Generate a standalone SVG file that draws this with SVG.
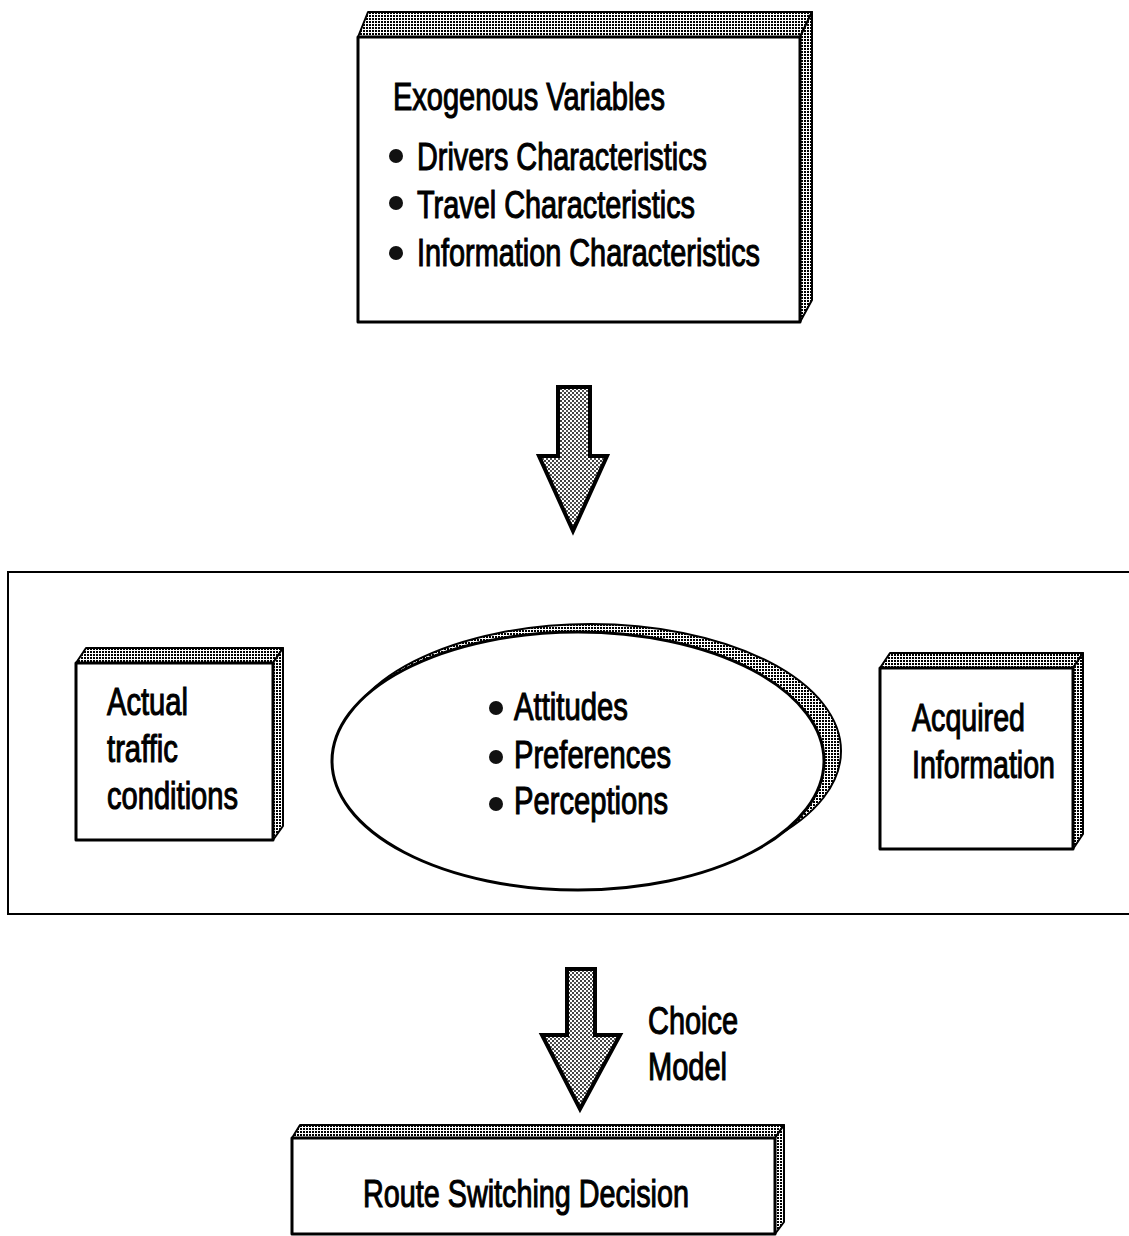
<svg xmlns="http://www.w3.org/2000/svg" width="1129" height="1236" viewBox="0 0 1129 1236">
  <defs>
    <!-- halftone stipple used for box depth faces -->
    <pattern id="stipDark" width="3" height="3" patternUnits="userSpaceOnUse">
      <rect width="3" height="3" fill="#ffffff"/>
      <rect x="0" y="0" width="2" height="2" fill="#000000"/>
    </pattern>
    <!-- lighter stipple for the flow arrows -->
    <pattern id="stipLight" width="4" height="4" patternUnits="userSpaceOnUse">
      <rect width="4" height="4" fill="#ffffff"/>
      <circle cx="1" cy="1" r="1" fill="#000000"/>
      <circle cx="3" cy="3" r="0.9" fill="#000000"/>
    </pattern>
    <style>
      .face { fill: #ffffff; stroke: #000000; stroke-width: 3; stroke-linejoin: round; }
      .depth { fill: url(#stipDark); stroke: #000000; stroke-width: 2; stroke-linejoin: round; }
      .frame { fill: none; stroke: #000000; stroke-width: 2; }
      .flow { fill: url(#stipLight); stroke: #000000; stroke-width: 4; stroke-linejoin: miter; }
      .lbl { font-family: "Liberation Sans", Arial, sans-serif; font-size: 38px; fill: #000000; stroke: #000000; stroke-width: 1.1; }
      .dot { fill: #111111; }
    </style>
  </defs>

  <rect width="1129" height="1236" fill="#ffffff"/>

  <!-- exogenous variables block -->
  <g id="exogenous">
    <polygon class="depth" points="358,37 368,12 812,12 800,37"/>
    <polygon class="depth" points="800,37 812,12 812,300 800,322"/>
    <rect class="face" x="358" y="37" width="442" height="285"/>
    <text class="lbl" x="393" y="110" textLength="272" lengthAdjust="spacingAndGlyphs">Exogenous Variables</text>
    <circle class="dot" cx="396" cy="156" r="7"/>
    <text class="lbl" x="417" y="170" textLength="290" lengthAdjust="spacingAndGlyphs">Drivers Characteristics</text>
    <circle class="dot" cx="396" cy="203" r="7"/>
    <text class="lbl" x="417" y="218" textLength="278" lengthAdjust="spacingAndGlyphs">Travel Characteristics</text>
    <circle class="dot" cx="396" cy="253" r="7"/>
    <text class="lbl" x="417" y="266" textLength="343" lengthAdjust="spacingAndGlyphs">Information Characteristics</text>
  </g>

  <!-- container for the behavioural factors -->
  <g id="factors">
    <rect class="frame" x="8" y="572" width="1125" height="342"/>
  </g>

  <g id="actual">
    <polygon class="depth" points="76,663 86,648 283,648 273,663"/>
    <polygon class="depth" points="273,663 283,648 283,826 273,840"/>
    <rect class="face" x="76" y="663" width="197" height="177"/>
    <text class="lbl" x="107" y="715" textLength="81" lengthAdjust="spacingAndGlyphs">Actual</text>
    <text class="lbl" x="107" y="762" textLength="71" lengthAdjust="spacingAndGlyphs">traffic</text>
    <text class="lbl" x="107" y="809" textLength="131" lengthAdjust="spacingAndGlyphs">conditions</text>
  </g>

  <g id="attitudes">
    <ellipse class="depth" cx="591" cy="751" rx="250" ry="127"/>
    <ellipse class="face" cx="578" cy="761" rx="246" ry="129"/>
    <circle class="dot" cx="496" cy="708" r="7"/>
    <text class="lbl" x="514" y="720" textLength="114" lengthAdjust="spacingAndGlyphs">Attitudes</text>
    <circle class="dot" cx="496" cy="757" r="7"/>
    <text class="lbl" x="514" y="768" textLength="157" lengthAdjust="spacingAndGlyphs">Preferences</text>
    <circle class="dot" cx="496" cy="804" r="7"/>
    <text class="lbl" x="514" y="814" textLength="154" lengthAdjust="spacingAndGlyphs">Perceptions</text>
  </g>

  <g id="acquired">
    <polygon class="depth" points="880,668 890,653 1083,653 1073,668"/>
    <polygon class="depth" points="1073,668 1083,653 1083,834 1073,849"/>
    <rect class="face" x="880" y="668" width="193" height="181"/>
    <text class="lbl" x="912" y="731" textLength="113" lengthAdjust="spacingAndGlyphs">Acquired</text>
    <text class="lbl" x="912" y="778" textLength="143" lengthAdjust="spacingAndGlyphs">Information</text>
  </g>

  <g id="route">
    <polygon class="depth" points="292,1138 300,1125 784,1125 775,1138"/>
    <polygon class="depth" points="775,1138 784,1125 784,1222 775,1234"/>
    <rect class="face" x="292" y="1138" width="483" height="96"/>
    <text class="lbl" x="363" y="1207" textLength="326" lengthAdjust="spacingAndGlyphs">Route Switching Decision</text>
  </g>

  <!-- flow arrows between stages -->
  <g id="connectors">
    <polygon class="flow" points="558,387 590,387 590,456 607,456 573,531 539,456 558,456"/>
    <polygon class="flow" points="567,969 595,969 595,1035 620,1035 580,1109 542,1035 567,1035"/>
    <text class="lbl" x="648" y="1034" textLength="90" lengthAdjust="spacingAndGlyphs">Choice</text>
    <text class="lbl" x="648" y="1080" textLength="79" lengthAdjust="spacingAndGlyphs">Model</text>
  </g>
</svg>
